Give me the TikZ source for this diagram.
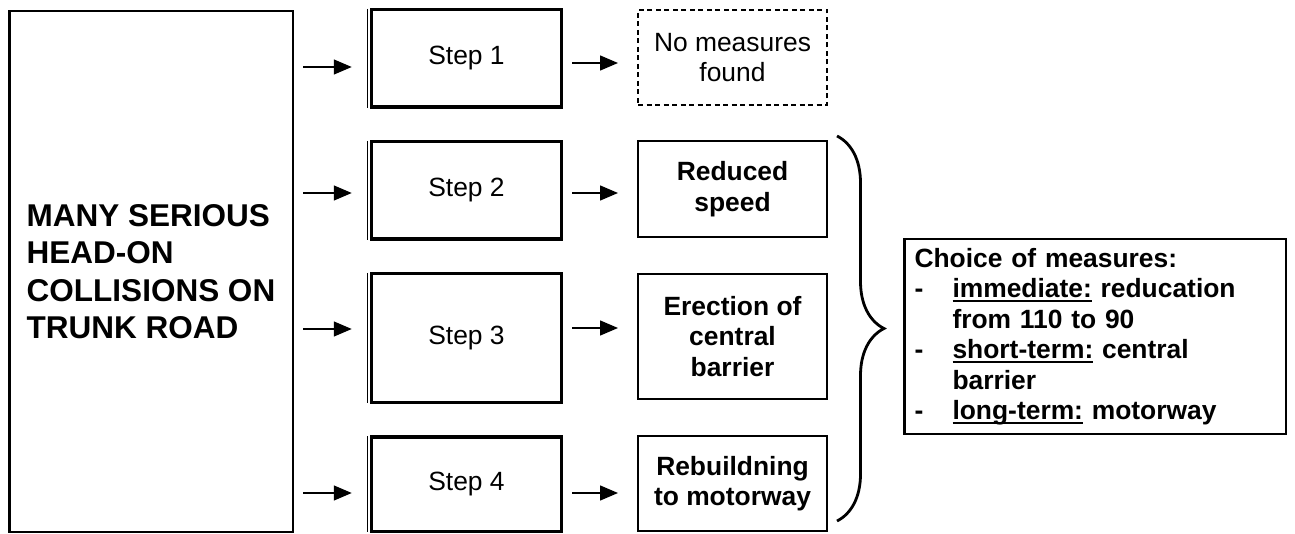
\documentclass[tikz,border=0pt]{standalone}
\usepackage{fontspec}
\setmainfont{Liberation Sans}
\usetikzlibrary{arrows.meta,decorations.pathreplacing}

% underline at a fixed depth
\newcommand{\undl}[1]{\setbox0\hbox{#1}\rlap{\rule[-4.5pt]{\wd0}{1.8pt}}\box0\relax}

\tikzset{
  stepbox/.style={draw, line width=3.5pt, minimum width=190pt,
    font=\fontsize{26.4}{30.5}\selectfont},
  resbox/.style={draw, line width=2pt, minimum width=189pt, align=center,
    font=\fontsize{26.4}{30.5}\selectfont\bfseries},
  flow/.style={-{Triangle[length=18pt,width=15pt]}, line width=1.5pt},
}

\begin{document}
\begin{tikzpicture}[x=1pt, y=-1pt]
\useasboundingbox (0,0) rectangle (1295,534);

% Problem box on the left
\node[draw, line width=2.5pt, minimum width=283.5pt, minimum height=520.5pt,
  align=left, font=\fontsize{31.5}{37.5}\selectfont\bfseries]
  (main) at (151,271.5) {MANY SERIOUS\\HEAD-ON\\COLLISIONS ON\\TRUNK ROAD};

% Steps
\node[stepbox, minimum height=97.5pt]  (s1) at (466.5,58.5)  {Step 1};
\node[stepbox, minimum height=97.5pt]  (s2) at (466.5,190.5) {Step 2};
\node[stepbox, minimum height=128.5pt] (s3) at (466.5,338)   {Step 3};
\node[stepbox, minimum height=94.5pt]  (s4) at (466.5,484)   {Step 4};
\foreach \s in {s1,s2,s3,s4}
  \draw[line width=1.2pt] ([xshift=-2.2pt,yshift=-1pt]\s.north west) -- ([xshift=-2.2pt,yshift=1pt]\s.south west);

% Outcomes
\node[resbox, dashed, dash pattern=on 5pt off 3.5pt, minimum height=95pt,
  font=\fontsize{26.4}{30.5}\selectfont] (r1) at (732.5,57.5) {No measures\\found};
\node[resbox, minimum height=96pt]  (r2) at (732.5,189)   {Reduced\\speed};
\node[resbox, minimum height=125pt] (r3) at (732.5,336.5) {Erection of\\central\\barrier};
\node[resbox, minimum height=95pt]  (r4) at (732.5,483.5) {Rebuildning\\to motorway};

% Arrows into and out of the steps
\foreach \n/\dy in {1/-8.5,2/-2.5,3/9,4/-9} {
  \coordinate (in\n) at ([yshift=\dy pt]s\n.west);
  \draw[flow, shorten <=9pt, shorten >=18pt] (main.east |- in\n) -- (in\n);
}
\foreach \n/\dy in {1/-4.5,2/-2.5,3/10,4/-9} {
  \coordinate (out\n) at ([yshift=\dy pt]s\n.east);
  \draw[flow, shorten <=9pt, shorten >=19pt] (out\n) -- (r\n.west |- out\n);
}

% Brace over the three measures
\coordinate (brtop) at (837,136);
\coordinate (brbot) at (837,521);
\draw[line width=2.8pt, decorate, decoration={brace, amplitude=47pt}] (brtop) -- (brbot);

% Choice of measures
\node[draw, line width=2.5pt, minimum width=381.5pt, minimum height=194.5pt,
  inner xsep=10pt, text width=361pt, align=left,
  font=\fontsize{26.4}{30.5}\selectfont\bfseries] (choice) at (1095,336.5)
  {Choice of measures:\\
   \makebox[38pt][l]{-}\undl{immediate:} reducation\\
   \hspace*{38pt}from 110 to 90\\
   \makebox[38pt][l]{-}\undl{short-term:} central\\
   \hspace*{38pt}barrier\\
   \makebox[38pt][l]{-}\undl{long-term:} motorway};

\end{tikzpicture}
\end{document}
